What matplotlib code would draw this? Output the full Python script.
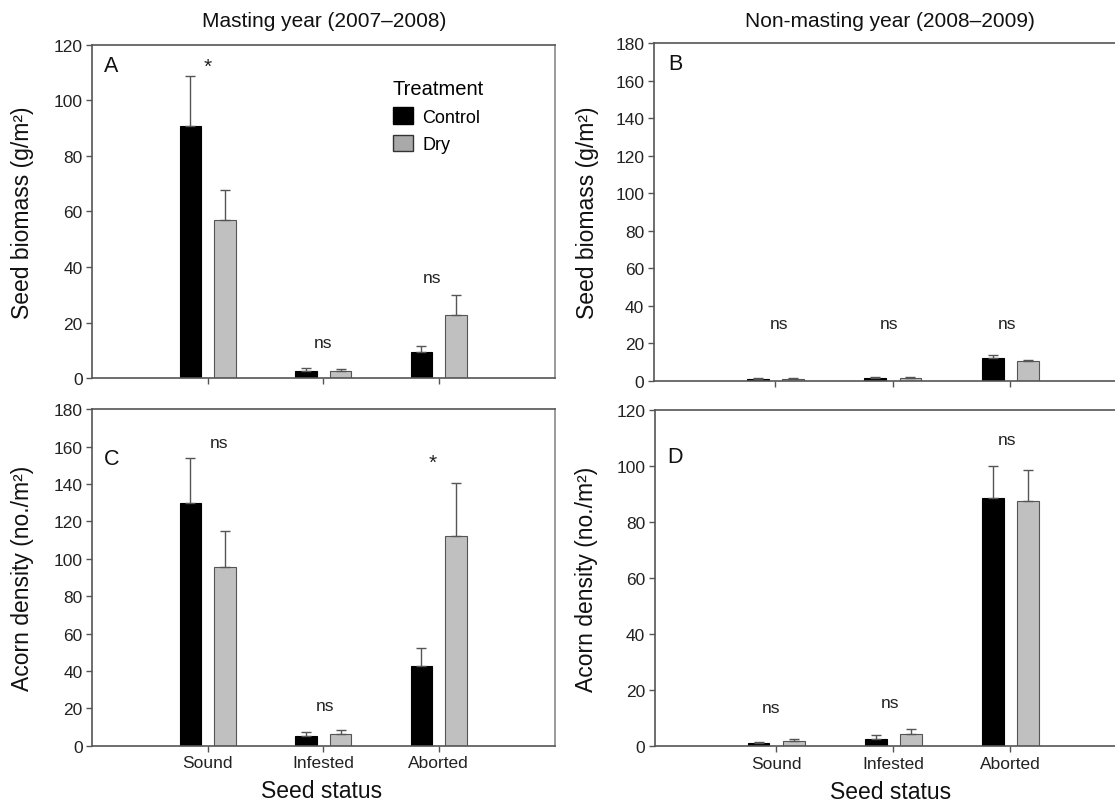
import matplotlib
matplotlib.use('Agg')
import matplotlib.pyplot as plt
from matplotlib.patches import Patch
import numpy as np

plt.rcParams['font.family'] = ['Liberation Sans', 'DejaVu Sans']

# ── Data ───────────────────────────────────────────────────────────────────────
categories = ['Sound', 'Infested', 'Aborted']

# A: seed biomass, masting year (g/m2)
a_control = [90.7, 2.5, 9.4]
a_control_se = [18.0, 1.1, 2.1]
a_dry = [56.8, 2.4, 22.7]
a_dry_se = [10.8, 0.7, 7.1]
a_marks = ['*', 'ns', 'ns']
a_mark_x = [1.0, 2.0, 2.94]
a_mark_y = [112.4, 12.8, 36.3]

# B: seed biomass, non-masting year (g/m2)
b_control = [0.85, 1.2, 11.9]
b_control_se = [0.55, 0.6, 2.0]
b_dry = [0.9, 1.4, 10.3]
b_dry_se = [0.3, 0.7, 0.9]
b_marks = ['ns', 'ns', 'ns']
b_mark_x = [1.03, 1.97, 2.97]
b_mark_y = [30.6, 30.6, 30.6]

# C: acorn density, masting year (no./m2)
c_control = [129.7, 5.2, 42.9]
c_control_se = [24.4, 2.3, 9.6]
c_dry = [95.5, 6.4, 112.1]
c_dry_se = [19.3, 2.1, 28.6]
c_marks = ['ns', 'ns', '*']
c_mark_x = [1.1, 2.02, 2.95]
c_mark_y = [162.2, 21.3, 151.5]

# D: acorn density, non-masting year (no./m2)
d_control = [1.07, 2.7, 88.6]
d_control_se = [0.43, 1.3, 11.3]
d_dry = [1.9, 4.4, 87.6]
d_dry_se = [0.7, 1.8, 11.0]
d_marks = ['ns', 'ns', 'ns']
d_mark_x = [0.96, 1.97, 2.97]
d_mark_y = [13.9, 15.7, 109.5]

# ── Style ──────────────────────────────────────────────────────────────────────
CONTROL_COLOR = '#000000'
DRY_COLOR = '#c0c0c0'
EDGE_DRY = '#555555'
ERR_COLOR = '#555555'
SPINE_COLOR = '#555555'
BAR_W = 0.185
OFFSET = 0.15

fig = plt.figure(figsize=(11.15, 8.04), dpi=100)

ax_a = fig.add_axes([0.0828, 0.5286, 0.4152, 0.4142])
ax_b = fig.add_axes([0.5865, 0.5252, 0.4150, 0.4200])
ax_c = fig.add_axes([0.0828, 0.0713, 0.4152, 0.4184])
ax_d = fig.add_axes([0.5874, 0.0705, 0.4140, 0.4183])


def draw_panel(ax, control, control_se, dry, dry_se, marks, mark_x, mark_y,
               ymax, letter, letter_xy, xlim, boxed):
    x = np.arange(1, len(categories) + 1)
    ax.bar(x - OFFSET, control, width=BAR_W, color=CONTROL_COLOR,
           edgecolor=CONTROL_COLOR, linewidth=0.8, zorder=2)
    ax.bar(x + OFFSET, dry, width=BAR_W, color=DRY_COLOR,
           edgecolor=EDGE_DRY, linewidth=0.8, zorder=2)
    ax.errorbar(x - OFFSET, control, yerr=[np.zeros(len(x)), control_se],
                fmt='none', ecolor=ERR_COLOR, elinewidth=1.0, capsize=3.6,
                capthick=1.0, zorder=3)
    ax.errorbar(x + OFFSET, dry, yerr=[np.zeros(len(x)), dry_se],
                fmt='none', ecolor=ERR_COLOR, elinewidth=1.0, capsize=3.6,
                capthick=1.0, zorder=3)

    for m, mx, my in zip(marks, mark_x, mark_y):
        ax.text(mx, my, m, ha='center', va='center',
                fontsize=12.5 if m == 'ns' else 15, color='#222222')

    ax.text(letter_xy[0], letter_xy[1], letter, transform=ax.transAxes,
            ha='left', va='center', fontsize=15.5, color='#111111')

    ax.set_xlim(*xlim)
    ax.set_ylim(0, ymax)
    ax.set_yticks(np.arange(0, ymax + 1, 20))
    ax.set_xticks(x)
    ax.tick_params(axis='y', direction='out', length=4.5, width=1.0,
                   colors=SPINE_COLOR, labelcolor='#222222', labelsize=12.5,
                   pad=2.5)
    ax.tick_params(axis='x', direction='out', length=4.0, width=1.0,
                   colors=SPINE_COLOR, labelcolor='#222222', labelsize=12.5,
                   pad=3)
    for side in ['left', 'bottom', 'top']:
        ax.spines[side].set_color(SPINE_COLOR)
        ax.spines[side].set_linewidth(1.2)
    if boxed:
        ax.spines['right'].set_color('#8a8a8a')
        ax.spines['right'].set_linewidth(1.2)
    else:
        ax.spines['right'].set_visible(False)


draw_panel(ax_a, a_control, a_control_se, a_dry, a_dry_se, a_marks, a_mark_x,
           a_mark_y, 120, 'A', (0.026, 0.937), (0, 4.01), True)
draw_panel(ax_b, b_control, b_control_se, b_dry, b_dry_se, b_marks, b_mark_x,
           b_mark_y, 180, 'B', (0.030, 0.938), (-0.034, 3.906), False)
draw_panel(ax_c, c_control, c_control_se, c_dry, c_dry_se, c_marks, c_mark_x,
           c_mark_y, 180, 'C', (0.024, 0.855), (0, 4.01), True)
draw_panel(ax_d, d_control, d_control_se, d_dry, d_dry_se, d_marks, d_mark_x,
           d_mark_y, 120, 'D', (0.027, 0.863), (-0.034, 3.906), False)

# x tick labels only on the bottom row
ax_a.set_xticklabels([])
ax_b.set_xticklabels([])
ax_c.set_xticklabels(categories)
ax_d.set_xticklabels(categories)

# axis labels
for ax, lab, lx in [(ax_a, 'Seed biomass (g/m²)', -0.126),
                    (ax_b, 'Seed biomass (g/m²)', -0.119),
                    (ax_c, 'Acorn density (no./m²)', -0.126),
                    (ax_d, 'Acorn density (no./m²)', -0.124)]:
    ax.set_ylabel(lab, fontsize=16.5, color='#111111')
    ax.yaxis.set_label_coords(lx, 0.5)

for ax, lx in [(ax_c, 0.495), (ax_d, 0.51)]:
    ax.set_xlabel('Seed status', fontsize=16.5, color='#111111')
    ax.xaxis.set_label_coords(lx, -0.099)

ax_a.set_title('Masting year (2007–2008)', fontsize=15, pad=13.5,
               color='#111111', x=0.5)
ax_b.set_title('Non-masting year (2008–2009)', fontsize=15, pad=12,
               color='#111111', x=0.51)

# legend in panel A
handles = [Patch(facecolor='#000000', edgecolor='#000000', linewidth=1.0,
                 label='Control'),
           Patch(facecolor='#a9a9a9', edgecolor='#333333', linewidth=1.0,
                 label='Dry')]
leg = ax_a.legend(handles=handles, title='Treatment', frameon=False,
                  loc='upper left', bbox_to_anchor=(0.649, 0.898),
                  borderpad=0, borderaxespad=0, fontsize=13,
                  title_fontsize=14.5, handlelength=1.1, handleheight=1.05,
                  handletextpad=0.55, labelspacing=0.5, alignment='left')

fig.savefig('out.png', dpi=100, facecolor='white')
